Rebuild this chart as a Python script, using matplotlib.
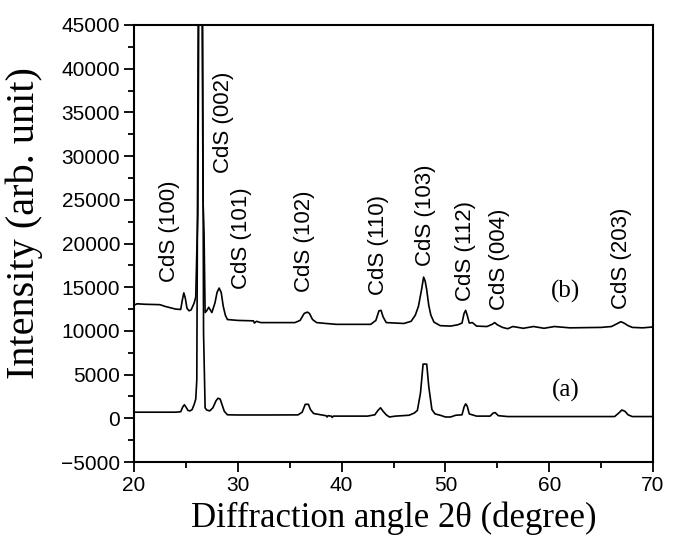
import matplotlib
matplotlib.use("Agg")
import matplotlib.pyplot as plt
from matplotlib.ticker import MultipleLocator

# Pattern (a): angle (deg) and intensity
angle_a = [20.0, 22.0, 24.0, 24.5, 24.7, 24.85, 25.0, 25.2, 25.4, 25.6, 25.8, 25.95,
           26.05, 26.2, 26.6, 26.7, 26.85, 27.0, 27.3, 27.6, 27.9, 28.1, 28.3, 28.5,
           28.7, 29.0, 30.0, 33.0, 35.8, 36.2, 36.5, 36.8, 37.0, 37.3, 38.0, 38.5,
           38.6, 38.7, 39.0, 39.1, 39.2, 42.5, 43.2, 43.5, 43.75, 44.0, 44.3, 44.6,
           45.2, 46.5, 47.0, 47.3, 47.6, 47.85, 48.2, 48.4, 48.7, 49.0, 49.5, 50.0,
           50.5, 51.0, 51.6, 51.8, 51.95, 52.1, 52.3, 53.0, 54.3, 54.6, 54.8, 55.1,
           56.0, 66.3, 66.7, 67.0, 67.3, 67.6, 68.0, 70.0]
intensity_a = [700, 700, 700, 750, 1300, 1550, 1300, 900, 850, 1000, 1600, 2200,
               4400, 50000, 50000, 9800, 1200, 950, 850, 1200, 2000, 2300, 2200, 1500,
               800, 400, 380, 380, 390, 700, 1600, 1600, 1000, 550, 400, 300,
               150, 300, 250, 100, 250, 250, 400, 900, 1200, 800, 400, 150,
               250, 350, 600, 900, 2900, 6200, 6200, 3600, 1000, 500, 350, 150,
               150, 350, 400, 1300, 1650, 1400, 500, 250, 250, 600, 650, 300,
               200, 200, 600, 950, 800, 400, 200, 200]

# Pattern (b)
angle_b = [20.0, 20.3, 21.0, 22.5, 23.0, 24.0, 24.5, 24.65, 24.8, 24.95, 25.1, 25.3,
           25.5, 25.8, 25.95, 26.05, 26.15, 26.25, 26.55, 26.65, 26.75, 26.85, 27.0,
           27.2, 27.5, 27.8, 28.0, 28.2, 28.4, 28.6, 28.8, 29.0, 30.0, 31.5, 31.6,
           31.8, 32.2, 35.5, 36.0, 36.4, 36.7, 36.9, 37.2, 37.6, 38.5, 39.5, 42.8,
           43.3, 43.6, 43.8, 44.0, 44.3, 46.0, 46.7, 47.1, 47.4, 47.7, 47.9, 48.05,
           48.2, 48.4, 48.6, 48.9, 49.5, 50.5, 51.2, 51.6, 51.8, 51.95, 52.1, 52.3,
           52.6, 53.0, 54.0, 54.5, 54.75, 55.0, 55.5, 56.0, 56.5, 57.5, 58.5, 59.5,
           60.5, 62.0, 65.0, 66.0, 66.5, 66.9, 67.2, 67.6, 68.0, 69.0, 70.0]
intensity_b = [12950, 13100, 13050, 13000, 12800, 12500, 12450, 13500, 14350, 13700,
               12600, 12300, 12400, 13200, 13900, 19000, 23300, 50000, 50000, 25000,
               21000, 12100, 12300, 12700, 12100, 13200, 14400, 14900, 14400, 12800,
               11800, 11300, 11200, 11150, 10900, 11100, 10950, 10950, 11200, 12000,
               12150, 12000, 11300, 10950, 10850, 10750, 10750, 11200, 12300, 12350,
               11600, 10950, 10850, 11100, 11800, 12800, 14700, 16150, 15700, 14700,
               12900, 11800, 11000, 10600, 10550, 10700, 10900, 12000, 12350, 11800,
               10900, 10950, 10550, 10500, 10750, 10950, 10700, 10400, 10250, 10500,
               10300, 10500, 10300, 10500, 10350, 10400, 10500, 10800, 11050, 10900,
               10600, 10400, 10350, 10450]

# Reflection labels
peak_names = ["CdS (100)", "CdS (002)", "CdS (101)", "CdS (102)", "CdS (110)",
              "CdS (103)", "CdS (112)", "CdS (004)", "CdS (203)"]
label_angle = [23.4, 28.6, 30.4, 36.45, 43.6, 48.1, 51.9, 55.2, 67.0]
label_base = [15600, 28100, 14800, 14450, 14100, 17400, 13400, 12400, 12500]

sans = ["Liberation Sans", "DejaVu Sans"]
serif = ["Liberation Serif", "DejaVu Serif"]

fig = plt.figure(figsize=(6.73, 5.41), dpi=100)
ax = fig.add_axes([134 / 673, 1 - 462 / 541, 519 / 673, 437 / 541])

ax.plot(angle_a, intensity_a, color="black", lw=1.2)
ax.plot(angle_b, intensity_b, color="black", lw=1.2)

for name, x, y in zip(peak_names, label_angle, label_base):
    ax.text(x, y, name, rotation=90, ha="center", va="bottom",
            fontsize=16, family=sans)

ax.text(61.6, 14480, "(b)", ha="center", va="center", fontsize=18, family=serif)
ax.text(61.6, 3130, "(a)", ha="center", va="center", fontsize=18, family=serif)

ax.set_xlim(20, 70)
ax.set_ylim(-5000, 45000)
ax.xaxis.set_major_locator(MultipleLocator(10))
ax.xaxis.set_minor_locator(MultipleLocator(5))
ax.yaxis.set_major_locator(MultipleLocator(5000))
ax.yaxis.set_minor_locator(MultipleLocator(2500))
ax.tick_params(which="both", direction="out", top=False, right=False, width=1.3)
ax.tick_params(which="major", length=7, pad=3, labelsize=15)
ax.tick_params(which="minor", length=4)
for lab in ax.get_xticklabels() + ax.get_yticklabels():
    lab.set_family(sans)
for sp in ax.spines.values():
    sp.set_linewidth(1.5)

ax.set_xlabel("Diffraction angle 2θ (degree)", fontsize=25, family=serif)
ax.set_ylabel("Intensity (arb. unit)", fontsize=29, family=serif)
ax.xaxis.set_label_coords(0.5, -0.09)
ax.yaxis.set_label_coords(-0.175, 0.547)

fig.savefig("out.png", dpi=100)
